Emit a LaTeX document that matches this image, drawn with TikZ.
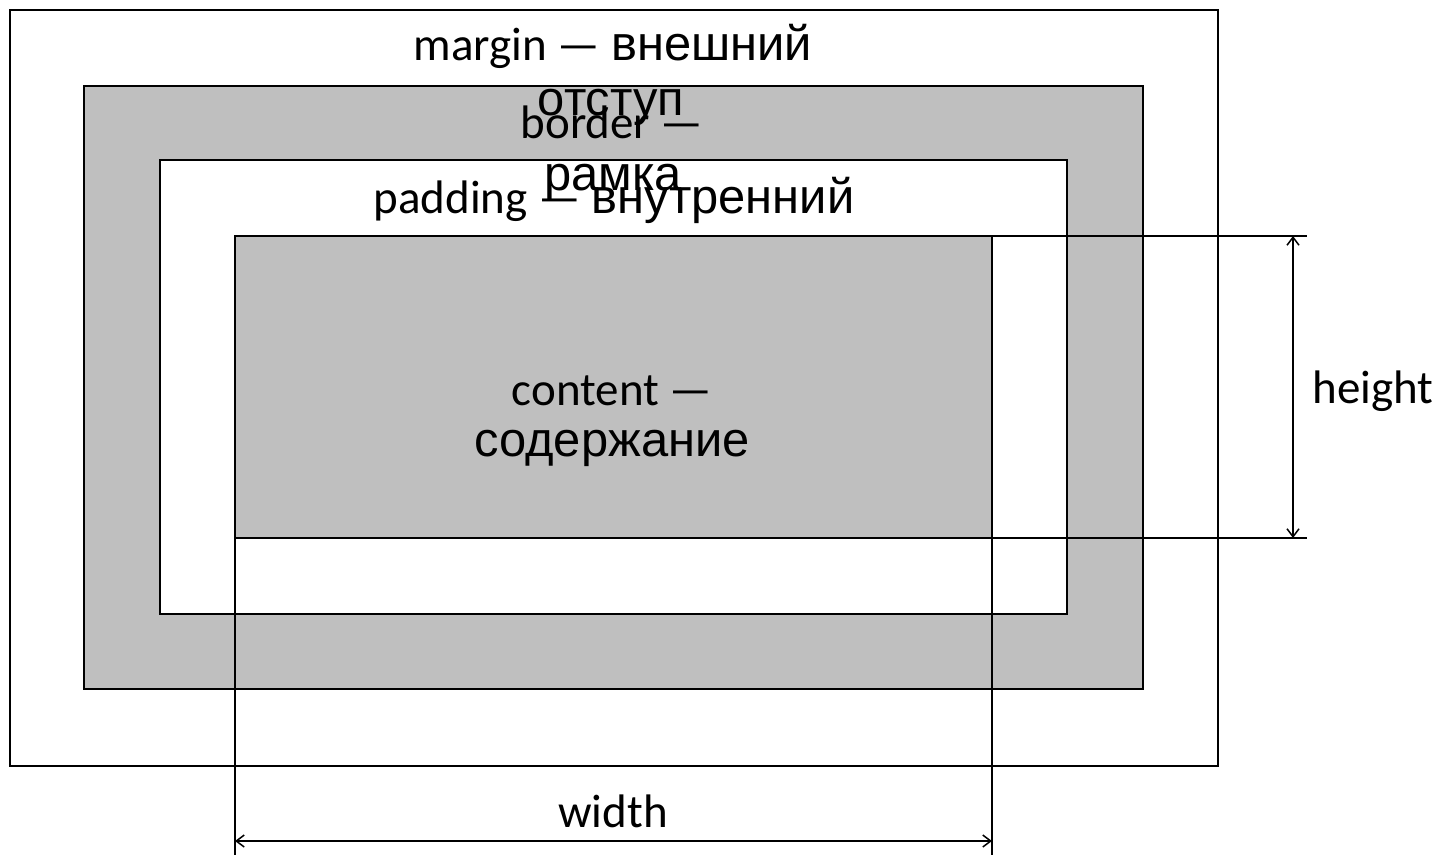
\documentclass[tikz,border=0pt]{standalone}
\usepackage{fontspec}
\setmainfont{Carlito}
\newfontfamily\cyr{Liberation Sans}[Scale=1.04]
\usetikzlibrary{arrows.meta}
\definecolor{boxgray}{HTML}{BFBFBF}
\begin{document}
\begin{tikzpicture}[x=1pt,y=-1pt,
  box/.style={draw=black,line width=2.2pt,anchor=north west,inner sep=0pt,outer sep=0pt},
  lbl/.style={anchor=base,inner sep=0pt,font=\fontsize{47}{52}\selectfont},
  dimline/.style={line width=1.4pt},
  dimarrow/.style={line width=1.5pt,{Straight Barb[length=8pt,width=12pt]}-{Straight Barb[length=8pt,width=12pt]}}]
\useasboundingbox (0,0) rectangle (1441,855);
% boxes
\node[box,fill=white,minimum width=1208pt,minimum height=756pt] (margin) at (10,10) {};
\node[box,fill=boxgray,minimum width=1059pt,minimum height=603pt] (border) at (84,86) {};
\node[box,fill=white,minimum width=907pt,minimum height=454pt] (padding) at (160,160) {};
\node[box,fill=boxgray,minimum width=757pt,minimum height=302pt] (content) at (235,236) {};
% extension lines
\coordinate (extTop) at (1307,236);
\coordinate (extBot) at (1307,538);
\coordinate (extL) at (235,855);
\coordinate (extR) at (992,855);
\draw[dimline] (content.north east) -- (extTop);
\draw[dimline] (content.south east) -- (extBot);
\draw[dimline] (content.south west) -- (extL);
\draw[dimline] (content.south east) -- (extR);
% dimension arrows
\coordinate (hTop) at (1293,236);
\coordinate (hBot) at (1293,538);
\coordinate (wL) at (235,841);
\coordinate (wR) at (992,841);
\draw[dimarrow] (hTop) -- (hBot);
\draw[dimarrow] (wL) -- (wR);
% labels
\node[lbl] (tmargin) at (613,60) {margin — {\cyr внешний}};
\node[lbl] (totstup) at (611,115) {\cyr отступ};
\node[lbl] (tborder) at (612,138) {border —};
\node[lbl] (tramka) at (613,190) {\cyr рамка};
\node[lbl] (tpadding) at (614,213) {padding — {\cyr внутренний}};
\node[lbl] (tcontent) at (612,405) {content —};
\node[lbl] (tsoder) at (612,456) {\cyr содержание};
\node[lbl] (theight) at (1373,403) {height};
\node[lbl] (twidth) at (613,827) {width};
\end{tikzpicture}
\end{document}
